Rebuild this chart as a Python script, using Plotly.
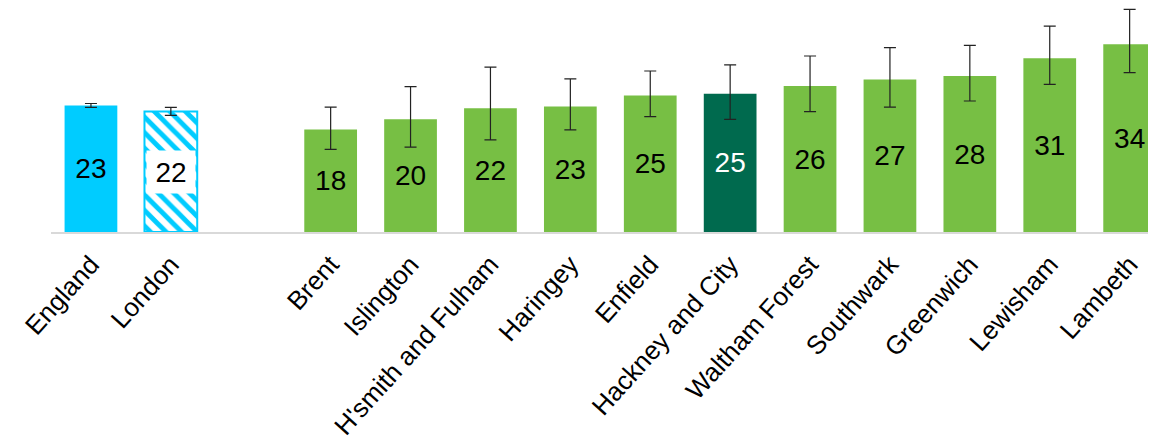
import plotly.graph_objects as go

categories = ["England", "London", " ", "Brent", "Islington", "H'smith and Fulham", "Haringey",
              "Enfield", "Hackney and City", "Waltham Forest", "Southwark", "Greenwich",
              "Lewisham", "Lambeth"]
values = [22.8, 21.7, None, 18.45, 20.3, 22.3, 22.6, 24.6, 24.9, 26.3, 27.45, 28.1, 31.3, 33.8]
ci_lower = [22.45, 21.0, None, 14.9, 15.3, 16.6, 18.4, 20.8, 20.3, 21.7, 22.5, 23.6, 26.6, 28.7]
ci_upper = [23.15, 22.45, None, 22.5, 26.2, 29.7, 27.6, 29.0, 30.1, 31.7, 33.2, 33.6, 37.1, 40.1]

CYAN = "#00CCFF"
GREEN = "#77BF44"
DARK = "#006A4E"

colors = []
shapes = []
line_w = []
text_col = []
texts = []
for c, v in zip(categories, values):
    if c == "England":
        colors.append(CYAN); shapes.append(""); line_w.append(0)
    elif c == "London":
        colors.append(CYAN); shapes.append("\\"); line_w.append(2)
    elif c == "Hackney and City":
        colors.append(DARK); shapes.append(""); line_w.append(0)
    else:
        colors.append(GREEN); shapes.append(""); line_w.append(0)
    text_col.append("white" if c == "Hackney and City" else "black")
    texts.append("" if (v is None or c == "London") else f"{v:.0f}")

err_plus = [None if v is None else u - v for v, u in zip(values, ci_upper)]
err_minus = [None if v is None else v - l for v, l in zip(values, ci_lower)]

FONT = "Arial, Liberation Sans, sans-serif"

fig = go.Figure()
fig.add_trace(go.Bar(
    x=categories, y=values,
    marker=dict(color=colors,
                line=dict(color=colors, width=line_w),
                pattern=dict(shape=shapes, size=11, solidity=0.45, fillmode="replace")),
    text=texts, textposition="inside", insidetextanchor="middle", textangle=0,
    textfont=dict(family=FONT, size=28, color=text_col),
    error_y=dict(type="data", symmetric=False, array=err_plus, arrayminus=err_minus,
                 color="#222222", thickness=1.2, width=6),
    hoverinfo="skip",
))

lv = values[categories.index("London")]
fig.add_annotation(x="London", y=lv / 2, text=f"{lv:.0f}", showarrow=False,
                   font=dict(family=FONT, size=28, color="black"),
                   bgcolor="white", width=46, height=40)

fig.update_layout(
    width=1156, height=446,
    margin=dict(l=43, r=0, t=0, b=222, autoexpand=False),
    paper_bgcolor="white", plot_bgcolor="white",
    bargap=0.34, showlegend=False,
    xaxis=dict(type="category", categoryorder="array", categoryarray=categories,
               range=[-0.5, 13.43], tickangle=-48, showgrid=False,
               showline=True, linecolor="#D9D9D9", linewidth=1.5, ticks="", automargin=False,
               ticklabelstandoff=5,
               tickfont=dict(family=FONT, size=26, color="black")),
    yaxis=dict(range=[0, 40.35], visible=False, showgrid=False, zeroline=False),
)

fig.write_html("out.html")
